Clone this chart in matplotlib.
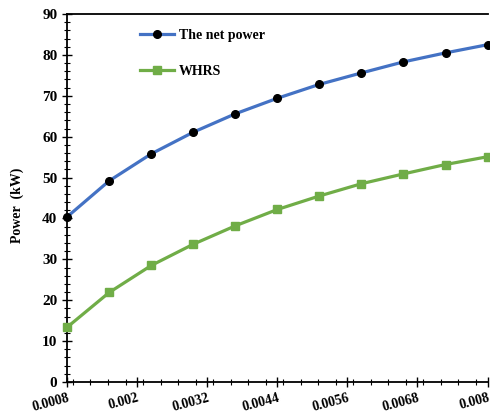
import matplotlib.pyplot as plt
import matplotlib.transforms as mtransforms
from matplotlib.ticker import MultipleLocator

# data
x_vals = [0.0008, 0.00152, 0.00224, 0.00296, 0.00368, 0.0044,
          0.00512, 0.00584, 0.00656, 0.00728, 0.008]
net_power = [40.4, 49.2, 55.8, 61.1, 65.6, 69.4, 72.8, 75.6, 78.3, 80.5, 82.5]
whrs = [13.4, 21.9, 28.5, 33.7, 38.2, 42.2, 45.5, 48.5, 50.9, 53.2, 55.1]
x_ticks = [0.0008, 0.002, 0.0032, 0.0044, 0.0056, 0.0068, 0.008]
x_tick_labels = ['0.0008', '0.002', '0.0032', '0.0044', '0.0056', '0.0068', '0.008']

plt.rcParams['font.family'] = ['Liberation Serif', 'DejaVu Serif']
plt.rcParams['font.weight'] = 'bold'

fig = plt.figure(figsize=(4.9, 4.13), dpi=100)
ax = fig.add_axes([0.137, 0.075, 0.858, 0.891])

ax.plot(x_vals, net_power, color='#4472C4', lw=2.3, marker='o', ms=5.5,
        mfc='black', mec='black', label='The net power', zorder=3, clip_on=False)
ax.plot(x_vals, whrs, color='#70AD47', lw=2.3, marker='s', ms=5.5,
        mfc='#70AD47', mec='#70AD47', label='WHRS', zorder=3, clip_on=False)

ax.set_xlim(0.0008, 0.008)
ax.set_ylim(0, 90)
ax.set_xticks(x_ticks)
ax.set_xticklabels(x_tick_labels, rotation=15, fontsize=10, fontweight='bold',
                   ha='right', rotation_mode='anchor')
# nudge the tick labels a little left so the last one stays inside the figure
shift = mtransforms.ScaledTranslation(-3 / 100, 0, fig.dpi_scale_trans)
for lab in ax.get_xticklabels():
    lab.set_transform(lab.get_transform() + shift)
ax.xaxis.set_minor_locator(MultipleLocator(0.0003))
ax.yaxis.set_major_locator(MultipleLocator(10))
ax.yaxis.set_minor_locator(MultipleLocator(2))
for lab in ax.get_yticklabels():
    lab.set_fontsize(11)
    lab.set_fontweight('bold')

ax.tick_params(axis='both', which='major', direction='inout', length=7, width=1)
ax.tick_params(axis='both', which='minor', direction='inout', length=5, width=0.8)
ax.tick_params(axis='x', pad=3)

ax.spines['right'].set_visible(False)
for s in ['left', 'bottom', 'top']:
    ax.spines[s].set_linewidth(1.3)

ax.set_ylabel('Power  (kW)', fontsize=10, fontweight='bold')
ax.yaxis.set_label_coords(-0.102, 0.48)

ax.legend(loc='upper left', bbox_to_anchor=(0.143, 0.994), frameon=False,
          labelspacing=1.65, handlelength=2.5, handletextpad=0.3,
          prop={'family': 'Liberation Serif', 'weight': 'bold', 'size': 10})

fig.savefig('out.png', dpi=100)
